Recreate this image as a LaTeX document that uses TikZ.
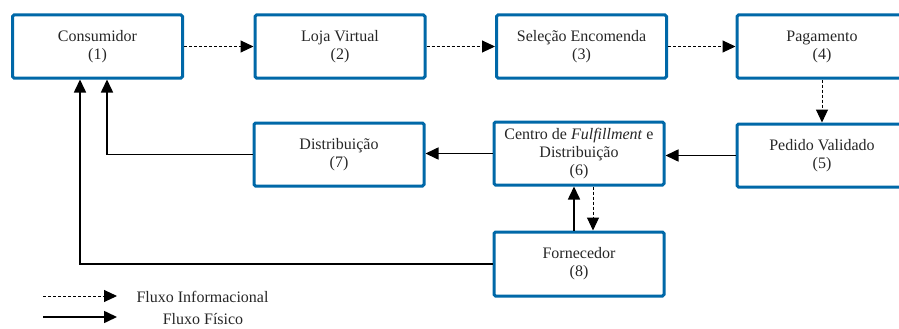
\documentclass[tikz,border=0pt]{standalone}
\usepackage{fontspec}
\setmainfont{Liberation Serif}
\usetikzlibrary{arrows.meta}
\definecolor{azulcaixa}{RGB}{0,104,168}

\begin{document}
\begin{tikzpicture}[x=1pt, y=-1pt,
    caixa/.style={draw=azulcaixa, line width=3pt, rounded corners=1.5pt,
                  minimum width=170pt, minimum height=63pt, inner sep=0pt,
                  align=center, text=black!85,
                  font=\fontsize{16}{18}\selectfont},
    legenda/.style={text=black!85, font=\fontsize{16}{18}\selectfont},
    fluxoinfo/.style={-{Triangle[length=13pt,width=12pt]}, line width=1pt,
                      dash pattern=on 3pt off 2pt},
    fluxofis/.style={-{Triangle[length=13pt,width=12pt]}, line width=1.6pt}]
    \useasboundingbox (0,0) rectangle (899,329);

    % Caixas da primeira linha
    \node[caixa] (consumidor) at (97.5, 46.5) {Consumidor\\(1)};
    \node[caixa] (loja)       at (340, 46.5)  {Loja Virtual\\(2)};
    \node[caixa] (selecao)    at (581.5, 46.5) {Seleção Encomenda\\(3)};
    \node[caixa] (pagamento)  at (822, 46.5)  {Pagamento\\(4)};

    % Caixas da segunda linha
    \node[caixa] (distrib)    at (339, 154.5) {Distribuição\\(7)};
    \node[caixa] (centro)     at (579, 153.5)
         {Centro de \textit{Fulfillment} e\\Distribuição\\(6)};
    \node[caixa] (pedido)     at (822, 155.5) {Pedido Validado\\(5)};

    % Fornecedor
    \node[caixa, minimum height=64pt] (fornecedor) at (579, 264) {Fornecedor\\(8)};

    % Fluxo informacional (tracejado)
    \draw[fluxoinfo] (consumidor.east) -- (loja.west);
    \draw[fluxoinfo] (loja.east) -- (selecao.west);
    \draw[fluxoinfo] (selecao.east) -- (pagamento.west);
    \draw[fluxoinfo] (pagamento.south) -- (pedido.north);
    \draw[fluxoinfo] ([xshift=14pt]centro.south) -- ([xshift=14pt]fornecedor.north);

    % Fluxo fisico
    \draw[fluxofis] (pedido.west) -- (pedido.west -| centro.east);
    \draw[fluxofis] (centro.west) -- (centro.west -| distrib.east);
    \draw[fluxofis] ([xshift=-5pt]fornecedor.north) -- ([xshift=-5pt]centro.south);
    \draw[fluxofis] (distrib.west) -| ([xshift=9.5pt]consumidor.south);
    \draw[fluxofis] (fornecedor.west) -| ([xshift=-17.5pt]consumidor.south);

    % Legenda
    \coordinate (info1) at (43, 296);
    \coordinate (info2) at (117, 296);
    \coordinate (fis1) at (43, 317);
    \coordinate (fis2) at (117, 317);
    \draw[fluxoinfo] (info1) -- (info2);
    \draw[fluxofis] (fis1) -- (fis2);
    \node[legenda, anchor=west] (leginfo) at (133, 297) {Fluxo Informacional};
    \node[legenda] (legfis) at (203, 319) {Fluxo Físico};
\end{tikzpicture}
\end{document}
